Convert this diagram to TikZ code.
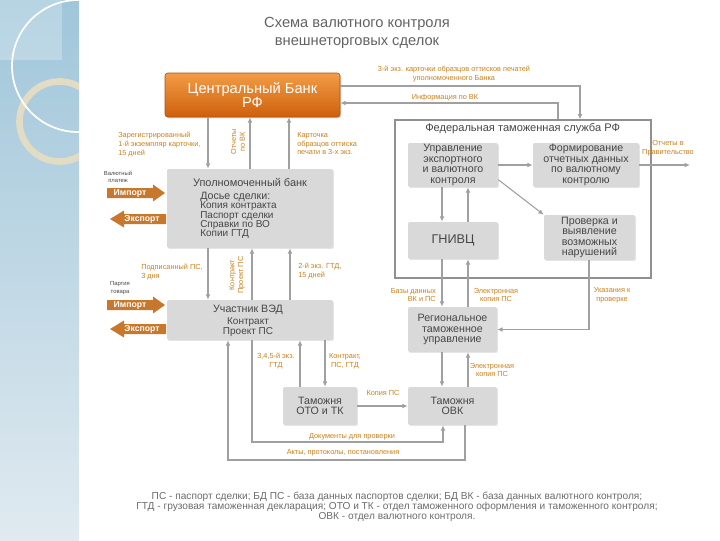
\documentclass[tikz,border=0pt]{standalone}
\usepackage{fontspec}
\setmainfont{Liberation Sans}
\usetikzlibrary{arrows.meta,shadows,calc}
\definecolor{linegray}{RGB}{160,160,160}
\definecolor{boxgray}{RGB}{217,217,217}
\definecolor{textgray}{RGB}{70,70,70}
\definecolor{lblorange}{RGB}{200,128,25}
\definecolor{arrowfill}{RGB}{200,120,45}
\definecolor{bandtop}{RGB}{160,198,218}
\definecolor{bandbot}{RGB}{224,234,240}
\definecolor{ringbeige}{RGB}{226,220,196}
\definecolor{cbtop}{RGB}{242,156,70}
\definecolor{cbbot}{RGB}{206,96,12}
\begin{document}
\begin{tikzpicture}[x=0.75pt,y=-0.75pt,
  box/.style={fill=boxgray,text=textgray,rounded corners=1.5pt,align=center,inner sep=1pt,
    font=\fontsize{8}{7.8}\selectfont,
    drop shadow={shadow xshift=0.7pt,shadow yshift=-0.7pt,opacity=0.2}},
  lbl/.style={text=lblorange,font=\fontsize{5.5}{6.6}\selectfont,inner sep=0pt},
  tiny/.style={text=textgray,font=\fontsize{4.4}{5.6}\selectfont,inner sep=0pt,align=center},
  conn/.style={draw=linegray,line width=0.8pt},
  arr/.style={conn,-{Latex[length=4pt,width=3.6pt]}},
  arrtext/.style={text=white,font=\bfseries\fontsize{6.5}{7}\selectfont,inner sep=0pt},
  imparrow/.pic={\fill[arrowfill] (-29,-5) -- (17,-5) -- (17,-8.5) -- (29,0) -- (17,8.5) -- (17,5) -- (-29,5) -- cycle;},
  exparrow/.pic={\fill[arrowfill] (29,-5) -- (-13,-5) -- (-13,-8.5) -- (-27,0) -- (-13,8.5) -- (-13,5) -- (29,5) -- cycle;}
]
\useasboundingbox (0,0) rectangle (720,540);
% left decorative band
\shade[top color=bandtop,bottom color=bandbot] (0,0) rectangle (79,540);
\fill[white,opacity=0.25] (0,0) rectangle (62,60);
\begin{scope}
  \clip (0,0) rectangle (79,540);
  \draw[ringbeige,line width=5pt] (59.5,121.5) circle[radius=30pt];
  \draw[white,line width=1.3pt] (78,66) circle[radius=49.5pt];
\end{scope}

% title
\node[text=textgray!85,font=\fontsize{11}{13.5}\selectfont,align=center] (title) at (357,33)
  {Схема валютного контроля\\внешнеторговых сделок};

% x / y helper coordinates
\coordinate (xa) at (208,0); \coordinate (xb) at (250,0); \coordinate (xc) at (289,0);
\coordinate (xd) at (252,0); \coordinate (xe) at (290,0);
\coordinate (x228) at (228,0); \coordinate (x300) at (300,0); \coordinate (x325) at (325,0);
\coordinate (x442) at (442,0); \coordinate (x468) at (468,0); \coordinate (x443) at (443,0);
\coordinate (x465) at (465,0); \coordinate (x558) at (558,0); \coordinate (x580) at (580,0);
\coordinate (x589) at (589,0);
\coordinate (y86) at (0,86); \coordinate (y103) at (0,103); \coordinate (y442) at (0,442);
\coordinate (y460) at (0,460);

% Central bank
\node[rounded corners=2pt,top color=cbtop,bottom color=cbbot,draw=cbbot!85!black,line width=0.4pt,
  minimum width=131.25pt,minimum height=33pt,text=white,align=center,
  font=\fontsize{11}{10.5}\selectfont,
  drop shadow={shadow xshift=1pt,shadow yshift=-1pt,opacity=0.3}] (cb) at (252.5,95)
  {Центральный Банк\\РФ};

% Authorized bank
\node[box,minimum width=124.5pt,minimum height=59.25pt] (ub) at (250,208.5) {};
\node[text=textgray,font=\fontsize{8.2}{9}\selectfont,inner sep=0pt] (ubh) at (250,182) {Уполномоченный банк};
\node[text=textgray,font=\fontsize{7.5}{6.9}\selectfont,inner sep=0pt,align=left,anchor=north west] (ubl) at (200,192)
  {{\fontsize{8}{6.9}\selectfont Досье сделки:}\\Копия контракта\\Паспорт сделки\\Справки по ВО\\Копии ГТД};

% VED participant
\node[box,minimum width=124.5pt,minimum height=30pt] (ved) at (250,320) {};
\node[text=textgray,font=\fontsize{8}{9}\selectfont,inner sep=0pt] (vedh) at (248,310) {Участник ВЭД};
\node[text=textgray,font=\fontsize{7.5}{6.6}\selectfont,inner sep=0pt,align=center] (vedl) at (248,327) {Контракт\\Проект ПС};

% FTS outer
\node[draw=linegray!90!black,line width=0.8pt,fill=white,minimum width=192pt,minimum height=118.5pt,inner sep=0pt] (fts) at (523,199) {};
\node[text=textgray,font=\fontsize{8.3}{9}\selectfont,anchor=west,inner sep=0pt] (ftst) at (425,129) {Федеральная таможенная служба РФ};

\node[box,minimum width=67.5pt,minimum height=33pt] (uevk) at (453,165) {Управление\\экспортного\\и валютного\\контроля};
\node[box,minimum width=79.5pt,minimum height=33pt] (form) at (586,165) {Формирование\\отчетных данных\\по валютному\\контролю};
\node[box,minimum width=67.5pt,minimum height=27.75pt,font=\fontsize{9.5}{10}\selectfont] (gnivc) at (453,240.5) {ГНИВЦ};
\node[box,minimum width=68.25pt,minimum height=33.75pt] (prov) at (589.5,237.5) {Проверка и\\выявление\\возможных\\нарушений};

\node[box,minimum width=66.75pt,minimum height=33.75pt] (rtu) at (452.5,329.5) {Региональное\\таможенное\\управление};
\node[box,minimum width=66.75pt,minimum height=28.5pt] (ovk) at (452.5,406) {Таможня\\ОВК};
\node[box,minimum width=55.5pt,minimum height=28.5pt] (oto) at (320,406) {Таможня\\ОТО и ТК};

% connectors CB <-> bank
\draw[arr] (cb.south -| xa) -- (ub.north -| xa);
\draw[arr] (ub.north -| xb) -- (cb.south -| xb);
\draw[arr] (ub.north -| xc) -- (cb.south -| xc);
% bank <-> VED
\draw[arr] (ub.south -| xa) -- (ved.north -| xa);
\draw[arr] (ved.north -| xd) -- (ub.south -| xd);
\draw[arr] (ved.north -| xe) -- (ub.south -| xe);
% CB <-> FTS
\draw[arr] (cb.east |- y86) -| (fts.north -| x580);
\draw[arr] (fts.north -| x558) |- (cb.east |- y103);
% inside FTS
\draw[arr] (uevk) -- (form);
\coordinate (gov) at (690,165);
\draw[arr] (form) -- (gov);
\draw[arr] ([yshift=-11pt]uevk.east) -- (prov.north west);
\draw[arr] (uevk.south -| x442) -- (gnivc.north -| x442);
\draw[arr] (gnivc.north -| x468) -- (uevk.south -| x468);
% FTS <-> regional
\draw[arr] (gnivc.south -| x442) -- (rtu.north -| x442);
\draw[arr] (rtu.north -| x468) -- (gnivc.south -| x468);
\draw[arr] (prov.south -| x589) |- (rtu.east);
% regional <-> OVK
\draw[arr] (rtu.south -| x442) -- (ovk.north -| x442);
\draw[arr] (ovk.north -| x468) -- (rtu.south -| x468);
% OTO -> OVK
\draw[arr] (oto) -- (ovk);
% VED <-> OTO
\draw[arr] (ved.south -| x325) -- (oto.north -| x325);
\draw[arr] (oto.north -| x300) -- (ved.south -| x300);
% VED -> OVK documents
\draw[arr] (ved.south -| xd) -- (xd |- y442) -| (ovk.south -| x443);
% OVK -> VED acts
\draw[arr] (ovk.south -| x465) -- (x465 |- y460) -| (ved.south -| x228);

% import / export arrows
\pic at (136,193) {imparrow};
\node[arrtext] (imp1) at (130,193) {Импорт};
\pic at (137,219) {exparrow};
\node[arrtext] (exp1) at (142,219) {Экспорт};
\pic at (136,305) {imparrow};
\node[arrtext] (imp2) at (130,305) {Импорт};
\pic at (137,329) {exparrow};
\node[arrtext] (exp2) at (142,329) {Экспорт};
\node[tiny] (valp) at (118,177) {Валютный\\платеж};
\node[tiny] (part) at (120,288) {Партия\\товара};

% labels
\node[lbl,align=center] (l1) at (454,74) {3-й экз. карточки образцов оттисков печатей\\уполномоченного Банка};
\node[lbl] (l2) at (445,98) {Информация по ВК};
\node[lbl,align=left,anchor=north west] (l3) at (118,132) {Зарегистрированный\\1-й экземпляр карточки,\\15 дней};
\node[lbl,align=center,rotate=90] (l4) at (238,142) {Отчеты\\по ВК};
\node[lbl,align=left,anchor=north west] (l5) at (297,132) {Карточка\\образцов оттиска\\печати в 3-х экз.};
\node[lbl,align=left,anchor=north west] (l6) at (141,264) {Подписанный ПС,\\3 дня};
\node[lbl,align=center,rotate=90] (l7) at (237,275) {Контракт\\Проект ПС};
\node[lbl,align=left,anchor=north west] (l8) at (298,263) {2-й экз. ГТД,\\15 дней};
\node[lbl,align=center] (l9) at (276,361) {3,4,5-й экз.\\ГТД};
\node[lbl,align=center] (l10) at (345,361) {Контракт,\\ПС, ГТД};
\node[lbl] (l11) at (383,393) {Копия ПС};
\node[lbl] (l12) at (352,437) {Документы для проверки};
\node[lbl] (l13) at (343,453) {Акты, протоколы, постановления};
\node[lbl,align=right,anchor=east] (l14) at (436,295) {Базы данных\\ВК и ПС};
\node[lbl,align=center] (l15) at (496,295) {Электронная\\копия ПС};
\node[lbl,align=center] (l16) at (612,295) {Указания к\\проверке};
\node[lbl,align=center] (l17) at (492,370) {Электронная\\копия ПС};
\node[lbl,align=center] (l18) at (668,148) {Отчеты в\\Правительство};

% footer
\node[text=textgray!80,font=\fontsize{7.6}{7.5}\selectfont,align=center] (foot) at (397,507)
  {ПС - паспорт сделки; БД ПС - база данных паспортов сделки; БД ВК - база данных валютного контроля;\\
   ГТД - грузовая таможенная декларация; ОТО и ТК - отдел таможенного оформления и таможенного контроля;\\
   ОВК - отдел валютного контроля.};
\end{tikzpicture}
\end{document}
